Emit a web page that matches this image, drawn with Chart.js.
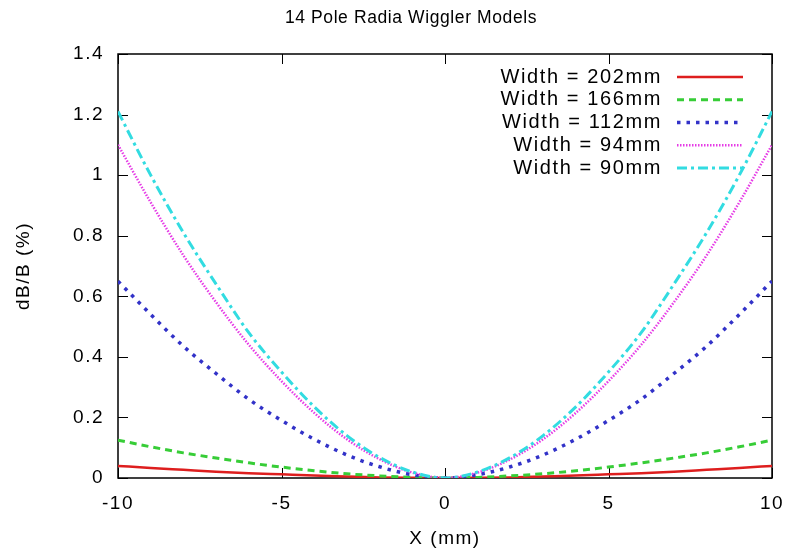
<!DOCTYPE html>
<html>
<head>
<meta charset="utf-8">
<script src="https://cdn.jsdelivr.net/npm/chart.js@4/dist/chart.umd.min.js"></script>
<style>
  html, body { margin: 0; padding: 0; background: #fff; }
  #wrap { width: 788px; height: 548px; }
</style>
</head>
<body>
<div id="wrap"><canvas id="wigglerChart" width="788" height="548"></canvas></div>
<script>
// valores
var xValues = [-10, -9, -8, -7, -6, -5, -4, -3, -2, -1, 0, 1, 2, 3, 4, 5, 6, 7, 8, 9, 10];
var w202 = [0.040, 0.033, 0.027, 0.021, 0.016, 0.012, 0.008, 0.005, 0.002, 0.0007, 0, 0.0007, 0.002, 0.005, 0.008, 0.012, 0.016, 0.021, 0.027, 0.033, 0.040];
var w166 = [0.125, 0.103, 0.083, 0.066, 0.050, 0.036, 0.024, 0.014, 0.007, 0.002, 0, 0.002, 0.007, 0.014, 0.024, 0.036, 0.050, 0.066, 0.083, 0.103, 0.125];
var w112 = [0.650, 0.540, 0.435, 0.345, 0.260, 0.190, 0.128, 0.076, 0.037, 0.011, 0, 0.011, 0.037, 0.076, 0.128, 0.190, 0.260, 0.345, 0.435, 0.540, 0.650];
var w94 = [1.100, 0.910, 0.735, 0.580, 0.440, 0.320, 0.215, 0.128, 0.062, 0.018, 0, 0.018, 0.062, 0.128, 0.215, 0.320, 0.440, 0.580, 0.735, 0.910, 1.100];
var w90 = [1.210, 1.000, 0.810, 0.640, 0.480, 0.350, 0.235, 0.140, 0.068, 0.020, 0, 0.020, 0.068, 0.140, 0.235, 0.350, 0.480, 0.640, 0.810, 1.000, 1.210];
var seriesLabels = ['Width = 202mm', 'Width = 166mm', 'Width = 112mm', 'Width = 94mm', 'Width = 90mm'];
var xTickLabels = ['-10', '-5', '0', '5', '10'];
var yTickLabels = ['0', '0.2', '0.4', '0.6', '0.8', '1', '1.2', '1.4'];
var chartTitle = '14 Pole Radia Wiggler Models';

var FONT = '"Liberation Sans", Arial, Helvetica, sans-serif';

function puntos(ys) {
    return xValues.map(function(x, i) { return { x: x, y: ys[i] }; });
}

var estilos = [
    { color: 'rgb(222, 30, 30)',  width: 2.5, dash: [] },
    { color: 'rgb(55, 205, 55)',  width: 3,   dash: [7, 5] },
    { color: 'rgb(50, 50, 200)',  width: 3.5, dash: [3.5, 6] },
    { color: 'rgb(230, 60, 230)', width: 2.5, dash: [1.5, 1.5] },
    { color: 'rgb(50, 220, 225)', width: 3,   dash: [10, 4, 3, 4] }
];
var series = [w202, w166, w112, w94, w90];

// marco, marcas hacia dentro, titulo y leyenda al estilo gnuplot
var marcoPlugin = {
    id: 'marco',
    beforeDraw: function(chart) {
        chart.ctx.letterSpacing = '1.5px';
    },
    beforeDatasetsDraw: function(chart) {
        var ctx = chart.ctx, a = chart.chartArea, sx = chart.scales.x, sy = chart.scales.y;
        ctx.save();
        ctx.strokeStyle = '#000';
        ctx.lineWidth = 1.5;
        ctx.strokeRect(a.left, a.top, a.right - a.left, a.bottom - a.top);
        ctx.lineWidth = 1;
        ctx.beginPath();
        sx.ticks.forEach(function(t) {
            var px = Math.round(sx.getPixelForValue(t.value)) + 0.5;
            ctx.moveTo(px, a.bottom); ctx.lineTo(px, a.bottom - 10);
            ctx.moveTo(px, a.top); ctx.lineTo(px, a.top + 10);
        });
        sy.ticks.forEach(function(t) {
            var py = Math.round(sy.getPixelForValue(t.value)) + 0.5;
            ctx.moveTo(a.left, py); ctx.lineTo(a.left + 10, py);
            ctx.moveTo(a.right, py); ctx.lineTo(a.right - 10, py);
        });
        ctx.stroke();
        ctx.restore();
    },
    afterDraw: function(chart) {
        var ctx = chart.ctx;
        ctx.save();
        ctx.fillStyle = '#000';
        ctx.textBaseline = 'middle';
        // titulo
        ctx.letterSpacing = '0.6px';
        ctx.font = '17.5px ' + FONT;
        ctx.textAlign = 'center';
        ctx.fillText(chartTitle, 411, 18);
        // leyenda
        ctx.letterSpacing = '1.6px';
        ctx.font = '20px ' + FONT;
        ctx.textAlign = 'right';
        chart.data.datasets.forEach(function(ds, i) {
            var y = 77 + i * 22.75;
            ctx.fillStyle = '#000';
            ctx.fillText(ds.label, 662, y);
            ctx.strokeStyle = ds.borderColor;
            ctx.lineWidth = ds.borderWidth;
            ctx.setLineDash(ds.borderDash);
            ctx.beginPath();
            ctx.moveTo(677, y);
            ctx.lineTo(743, y);
            ctx.stroke();
        });
        ctx.restore();
    }
};

document.addEventListener("DOMContentLoaded", function() {
    var ctx = document.getElementById('wigglerChart').getContext('2d');
    var wigglerChart = new Chart(ctx, {
        type: 'line',
        data: {
            datasets: series.map(function(s, i) {
                return {
                    label: seriesLabels[i],
                    data: puntos(s),
                    borderColor: estilos[i].color,
                    borderWidth: estilos[i].width,
                    borderDash: estilos[i].dash,
                    pointRadius: 0,
                    fill: false,
                    cubicInterpolationMode: 'monotone',
                    order: 5 - i
                };
            })
        },
        options: {
            responsive: false,
            animation: false,
            events: [],
            layout: { padding: { left: 0, right: 16, top: 54, bottom: 0 } },
            plugins: {
                legend: { display: false },
                tooltip: { enabled: false },
                title: { display: false }
            },
            scales: {
                x: {
                    type: 'linear',
                    min: -10,
                    max: 10,
                    afterFit: function(scale) {
                        scale.height = 70;
                        scale.paddingLeft = 0;
                        scale.paddingRight = 0;
                    },
                    ticks: {
                        stepSize: 5,
                        color: '#000',
                        padding: 14,
                        maxRotation: 0,
                        font: { family: FONT, size: 19 },
                        callback: function(value, index) { return xTickLabels[index]; }
                    },
                    grid: { display: true, drawOnChartArea: false, drawTicks: false },
                    border: { display: false },
                    title: {
                        display: true,
                        text: 'X (mm)',
                        color: '#000',
                        font: { family: FONT, size: 19 },
                        padding: { top: 0, bottom: -2 }
                    }
                },
                y: {
                    min: 0,
                    max: 1.4,
                    afterFit: function(scale) {
                        scale.width = 118;
                        scale.paddingTop = 0;
                        scale.paddingBottom = 0;
                    },
                    ticks: {
                        stepSize: 0.2,
                        color: '#000',
                        padding: 14,
                        font: { family: FONT, size: 19 },
                        callback: function(value, index) { return yTickLabels[index]; }
                    },
                    grid: { display: true, drawOnChartArea: false, drawTicks: false },
                    border: { display: false },
                    title: {
                        display: true,
                        text: 'dB/B (%)',
                        color: '#000',
                        font: { family: FONT, size: 19 },
                        padding: { top: 12, bottom: 0 }
                    }
                }
            }
        },
        plugins: [marcoPlugin]
    });
});
</script>
</body>
</html>
